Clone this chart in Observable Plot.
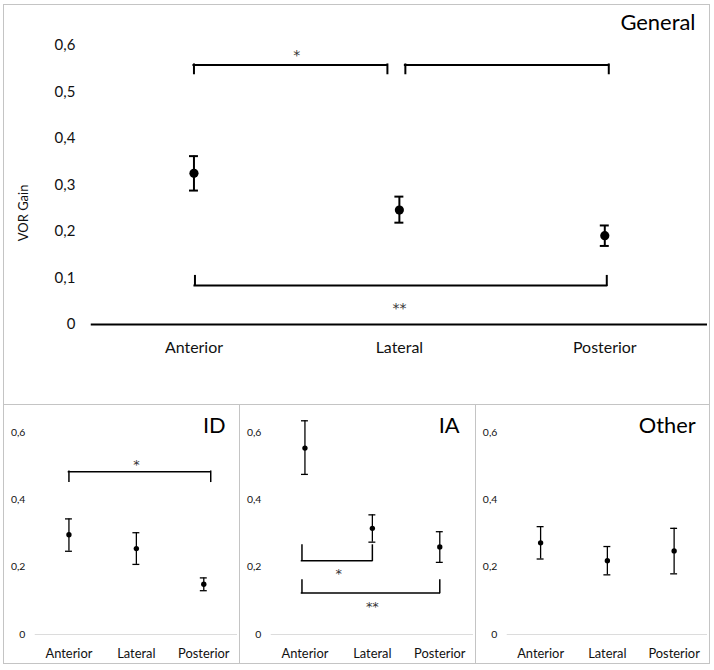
<!DOCTYPE html>
<html><head><meta charset="utf-8">
<script src="https://cdn.jsdelivr.net/npm/d3@7"></script>
<script src="https://cdn.jsdelivr.net/npm/@observablehq/plot@0.6"></script>
<style>
body{margin:0;background:#fff;font-family:Lato,sans-serif;}
#page{position:relative;width:714px;height:670px;background:#fff;}
.panel{position:absolute;box-sizing:border-box;border:1px solid #c4c4c4;}
.panel svg{position:absolute;left:-1px;top:-1px;}
</style></head><body><div id="page"></div>
<script>
const categories = ["Anterior", "Lateral", "Posterior"];

const generalMean = [0.325, 0.246, 0.191];
const generalLow  = [0.288, 0.219, 0.169];
const generalHigh = [0.362, 0.275, 0.213];

const idMean = [0.296, 0.255, 0.149];
const idLow  = [0.247, 0.208, 0.130];
const idHigh = [0.343, 0.302, 0.168];

const iaMean = [0.553, 0.315, 0.260];
const iaLow  = [0.475, 0.274, 0.214];
const iaHigh = [0.634, 0.355, 0.305];

const otherMean = [0.272, 0.219, 0.248];
const otherLow  = [0.224, 0.177, 0.180];
const otherHigh = [0.320, 0.261, 0.315];

const generalTicks = [0, 0.1, 0.2, 0.3, 0.4, 0.5, 0.6];
const panelTicks = [0, 0.2, 0.4, 0.6];

// significance brackets: category indices compared, bracket level, tip end, label, label height
const generalBrackets = [
  {from: 0, to: 1, level: 0.558, tip: 0.539, label: "*", labelY: 0.579},
  {from: 1, to: 2, level: 0.558, tip: 0.539, label: "", labelY: 0},
  {from: 0, to: 2, level: 0.084, tip: 0.1035, label: "**", labelY: 0.034}
];
const idBrackets = [
  {from: 0, to: 2, level: 0.483, tip: 0.453, label: "*", labelY: 0.503}
];
const iaBrackets = [
  {from: 0, to: 1, level: 0.219, tip: 0.264, label: "*", labelY: 0.181},
  {from: 0, to: 2, level: 0.123, tip: 0.160, label: "**", labelY: 0.082}
];
const otherBrackets = [];

const fmt = d => d === 0 ? "0" : String(d).replace(".", ",");

function rows(mean, low, high) {
  return categories.map((c, i) => ({i, mean: mean[i], low: low[i], high: high[i]}));
}

function bracketMarks(brackets, insets, sw, fs) {
  const marks = [];
  brackets.forEach((b, k) => {
    const [l, r] = insets[k] || [0, 0];
    marks.push(Plot.ruleY([b], {x1: "from", x2: "to", y: "level", insetLeft: l, insetRight: r, stroke: "#000", strokeWidth: sw, strokeLinecap: "square"}));
    marks.push(Plot.ruleX([b], {x: "from", y1: "level", y2: "tip", dx: l, stroke: "#000", strokeWidth: sw, strokeLinecap: "square"}));
    marks.push(Plot.ruleX([b], {x: "to", y1: "level", y2: "tip", dx: -r, stroke: "#000", strokeWidth: sw, strokeLinecap: "square"}));
    if (b.label) marks.push(Plot.text([b], {x: d => (d.from + d.to) / 2, y: "labelY", text: "label", fontSize: fs, fontFamily: "DejaVu Sans", lineAnchor: "middle", fill: "#333"}));
  });
  return marks;
}

function panel(cfg) {
  const div = document.createElement("div");
  div.className = "panel";
  Object.assign(div.style, {left: cfg.left + "px", top: cfg.top + "px", width: cfg.width + "px", height: cfg.height + "px"});
  const data = rows(cfg.mean, cfg.low, cfg.high);
  const big = cfg.big;
  const sw = big ? 2 : 1.3;
  const capHalf = big ? 4.5 : 3.5;
  const marks = [
    Plot.axisY({ticks: cfg.ticks, tickFormat: fmt, tickSize: 0, tickPadding: big ? 16 : 10, fontSize: big ? 15 : 10.5, label: null, fill: "#111"}),
    Plot.axisX({ticks: [0, 1, 2], tickFormat: i => categories[i], tickSize: 0, tickPadding: big ? 17 : 14, fontSize: big ? 16 : 13, label: null, fill: "#111"}),
    big ? Plot.ruleY([0], {stroke: "#000", strokeWidth: 2})
        : Plot.ruleY([0], {stroke: "#dcdcdc", strokeWidth: 1}),
    Plot.ruleX(data, {x: "i", y1: "low", y2: "high", stroke: "#000", strokeWidth: sw}),
    Plot.ruleY(data, {x1: "i", x2: "i", y: "high", insetLeft: -capHalf, insetRight: -capHalf, stroke: "#000", strokeWidth: sw}),
    Plot.ruleY(data, {x1: "i", x2: "i", y: "low", insetLeft: -capHalf, insetRight: -capHalf, stroke: "#000", strokeWidth: sw}),
    Plot.dot(data, {x: "i", y: "mean", r: big ? 4.6 : 2.7, fill: "#000", stroke: "none"}),
    ...bracketMarks(cfg.brackets, cfg.insets, big ? 2 : 1.5, big ? 14 : 13),
    Plot.text([cfg.title], {frameAnchor: "top-right", dx: cfg.titleDx, dy: cfg.titleDy, fontSize: 22, lineAnchor: "middle", textAnchor: "end", fill: "#000"})
  ];
  if (cfg.yLabel) {
    marks.push(Plot.text([cfg.yLabel], {frameAnchor: "left", rotate: -90, textAnchor: "middle", lineAnchor: "middle", dx: -68, dy: 28, fontSize: 13, fill: "#111"}));
  }
  const chart = Plot.plot({
    width: cfg.width,
    height: cfg.height,
    marginLeft: 32 + (big ? 56 : 0),
    marginRight: 1,
    marginTop: cfg.marginTop,
    marginBottom: cfg.marginBottom,
    style: {fontFamily: "Lato, sans-serif", background: "transparent", color: "#000", overflow: "visible"},
    x: {type: "linear", domain: [-0.5, 2.5]},
    y: {domain: [0, 0.6]},
    marks
  });
  div.appendChild(chart);
  document.getElementById("page").appendChild(div);
}

panel({left: 3, top: 4, width: 707, height: 401, marginTop: 41, marginBottom: 80, big: true,
  mean: generalMean, low: generalLow, high: generalHigh, ticks: generalTicks,
  brackets: generalBrackets, insets: [[0, 12], [6, -4], [1, -2]],
  title: "General", titleDx: -12, titleDy: -22.6, yLabel: "VOR Gain"});

panel({left: 3, top: 404, width: 237, height: 260, marginTop: 28, marginBottom: 28, big: false,
  mean: idMean, low: idLow, high: idHigh, ticks: panelTicks,
  brackets: idBrackets, insets: [[0, -7]],
  title: "ID", titleDx: -12, titleDy: -6.5});

panel({left: 239, top: 404, width: 237, height: 260, marginTop: 28, marginBottom: 28, big: false,
  mean: iaMean, low: iaLow, high: iaHigh, ticks: panelTicks,
  brackets: iaBrackets, insets: [[-3, 0], [-3, 0]],
  title: "IA", titleDx: -14, titleDy: -6});

panel({left: 475, top: 404, width: 235, height: 260, marginTop: 28, marginBottom: 28, big: false,
  mean: otherMean, low: otherLow, high: otherHigh, ticks: panelTicks,
  brackets: otherBrackets, insets: [],
  title: "Other", titleDx: -12, titleDy: -6.5});
</script></body></html>
